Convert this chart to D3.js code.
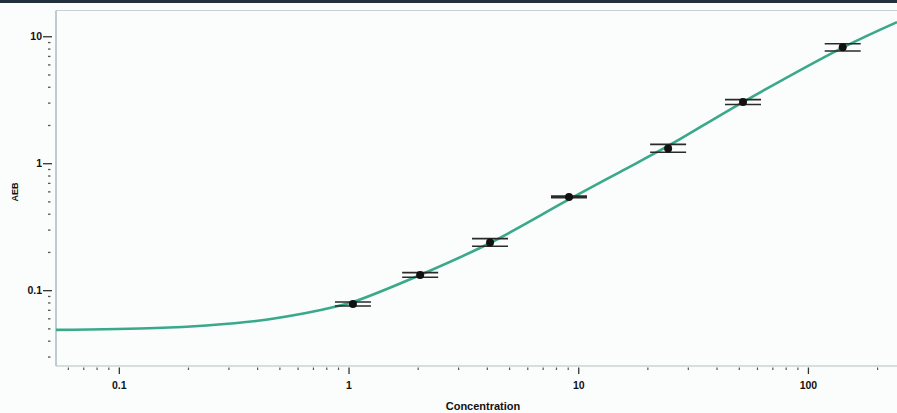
<!DOCTYPE html>
<html>
<head>
<meta charset="utf-8">
<script src="https://cdn.jsdelivr.net/npm/d3@7"></script>
<style>
  body { margin: 0; background: #fbfcfc; }
  svg { display: block; }
  text { font-family: "Liberation Sans", Arial, sans-serif; fill: #111; }
</style>
</head>
<body>
<div id="chart"></div>
<script>
// measured points (concentration vs AEB) with error limits
var concentration = [1.04, 2.04, 4.11, 9.07, 24.5, 51.9, 141];
var aeb = [0.0786, 0.133, 0.240, 0.547, 1.32, 3.06, 8.25];
var aebLow = [0.0758, 0.1275, 0.224, 0.539, 1.23, 2.93, 7.72];
var aebHigh = [0.0815, 0.1387, 0.257, 0.555, 1.42, 3.20, 8.82];

// fitted curve
var fitConc = [0.053, 0.1445, 0.239, 0.394, 0.65, 0.878, 1.04, 2.04, 4.11, 9.07, 15.1, 24.5, 51.9, 141, 243];
var fitAeb = [0.0491, 0.0508, 0.0532, 0.0577, 0.0667, 0.0751, 0.0815, 0.133, 0.2375, 0.523, 0.860, 1.379, 3.06, 8.22, 13.05];

var xTicks = [0.1, 1, 10, 100];
var yTicks = [0.1, 1, 10];

var W = 897, H = 413;
var margin = {top: 10.5, right: 0, bottom: 47, left: 56};

var svg = d3.select("#chart").append("svg")
    .attr("width", W)
    .attr("height", H);

// dark strip at the very top of the scan
svg.append("rect").attr("x", 0).attr("y", 0).attr("width", W).attr("height", 3).attr("fill", "#22303e");

var x = d3.scaleLog()
    .domain([0.053, 243])
    .range([margin.left, W - margin.right]);

var y = d3.scaleLog()
    .domain([0.0255, 16.1])
    .range([H - margin.bottom, margin.top]);

var x0 = margin.left, y0 = H - margin.bottom;

// minor tick values
function minors(scale) {
    var d = scale.domain(), out = [];
    for (var e = Math.floor(Math.log10(d[0])); e <= Math.ceil(Math.log10(d[1])); e++) {
        for (var m = 2; m <= 9; m++) {
            var v = m * Math.pow(10, e);
            if (v >= d[0] && v <= d[1]) out.push(v);
        }
    }
    return out;
}

// frame: top line and axes
svg.append("line")
    .attr("x1", x0).attr("x2", W).attr("y1", margin.top).attr("y2", margin.top)
    .attr("stroke", "#c9d2d3").attr("stroke-width", 1.2);
svg.append("line")
    .attr("x1", x0).attr("x2", x0).attr("y1", margin.top).attr("y2", y0)
    .attr("stroke", "#a9bcc1").attr("stroke-width", 1.5);
svg.append("line")
    .attr("x1", x0).attr("x2", W).attr("y1", y0).attr("y2", y0)
    .attr("stroke", "#b4bfc2").attr("stroke-width", 1.2);

// Y ticks
svg.append("g").selectAll("line")
    .data(minors(y))
    .enter().append("line")
    .attr("x1", 48).attr("x2", 50.5)
    .attr("y1", function(d) { return y(d); })
    .attr("y2", function(d) { return y(d); })
    .attr("stroke", "#555").attr("stroke-width", 1.3);

svg.append("g").selectAll("line")
    .data(yTicks)
    .enter().append("line")
    .attr("x1", 43).attr("x2", 52)
    .attr("y1", function(d) { return y(d); })
    .attr("y2", function(d) { return y(d); })
    .attr("stroke", "#333").attr("stroke-width", 1.3);

svg.append("g").selectAll("text")
    .data(yTicks)
    .enter().append("text")
    .attr("x", 42)
    .attr("y", function(d) { return y(d); })
    .attr("dy", "0.35em")
    .attr("text-anchor", "end")
    .attr("font-size", 10.5)
    .attr("font-weight", "bold")
    .text(function(d) { return d3.format("~g")(d); });

// X ticks
svg.append("g").selectAll("line")
    .data(minors(x))
    .enter().append("line")
    .attr("x1", function(d) { return x(d); })
    .attr("x2", function(d) { return x(d); })
    .attr("y1", y0 + 1.5).attr("y2", y0 + 4)
    .attr("stroke", "#555").attr("stroke-width", 1.2);

svg.append("g").selectAll("line")
    .data(xTicks)
    .enter().append("line")
    .attr("x1", function(d) { return x(d); })
    .attr("x2", function(d) { return x(d); })
    .attr("y1", y0 + 1.5).attr("y2", y0 + 8)
    .attr("stroke", "#333").attr("stroke-width", 1.3);

svg.append("g").selectAll("text")
    .data(xTicks)
    .enter().append("text")
    .attr("x", function(d) { return x(d); })
    .attr("y", 389)
    .attr("text-anchor", "middle")
    .attr("font-size", 10.5)
    .attr("font-weight", "bold")
    .text(function(d) { return d3.format("~g")(d); });

// axis titles
svg.append("text")
    .attr("x", 483).attr("y", 410)
    .attr("text-anchor", "middle")
    .attr("font-size", 11)
    .attr("font-weight", "bold")
    .text("Concentration");

svg.append("text")
    .attr("transform", "translate(18,192) rotate(-90)")
    .attr("text-anchor", "middle")
    .attr("font-size", 9)
    .attr("font-weight", "bold")
    .text("AEB");

// fitted line
var fitData = fitConc.map(function(c, i) { return {c: c, v: fitAeb[i]}; });
svg.append("path")
    .datum(fitData)
    .attr("fill", "none")
    .attr("stroke", "#3aa98a")
    .attr("stroke-width", 2.6)
    .attr("d", d3.line()
        .curve(d3.curveCatmullRom)
        .x(function(d) { return x(d.c); })
        .y(function(d) { return y(d.v); }));

// error bars and points
var pts = concentration.map(function(c, i) {
    return {c: c, v: aeb[i], lo: aebLow[i], hi: aebHigh[i]};
});

var g = svg.append("g").selectAll("g")
    .data(pts)
    .enter().append("g");

g.append("line")
    .attr("x1", function(d) { return x(d.c) - 18; })
    .attr("x2", function(d) { return x(d.c) + 18; })
    .attr("y1", function(d) { return y(d.lo); })
    .attr("y2", function(d) { return y(d.lo); })
    .attr("stroke", "#2a2a2a").attr("stroke-width", 1.6);

g.append("line")
    .attr("x1", function(d) { return x(d.c) - 18; })
    .attr("x2", function(d) { return x(d.c) + 18; })
    .attr("y1", function(d) { return y(d.hi); })
    .attr("y2", function(d) { return y(d.hi); })
    .attr("stroke", "#2a2a2a").attr("stroke-width", 1.6);

g.append("line")
    .attr("x1", function(d) { return x(d.c); })
    .attr("x2", function(d) { return x(d.c); })
    .attr("y1", function(d) { return y(d.lo); })
    .attr("y2", function(d) { return y(d.hi); })
    .attr("stroke", "#2a2a2a").attr("stroke-width", 1.6);

g.append("circle")
    .attr("cx", function(d) { return x(d.c); })
    .attr("cy", function(d) { return y(d.v); })
    .attr("r", 4)
    .attr("fill", "#111");
</script>
</body>
</html>
